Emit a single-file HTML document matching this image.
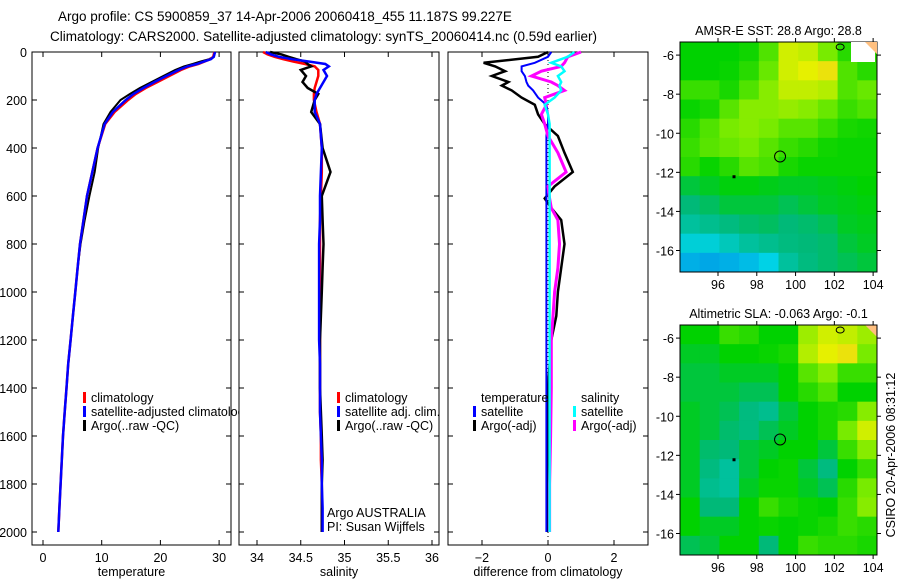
<!DOCTYPE html>
<html><head><meta charset="utf-8"><style>
body{margin:0;background:#fff;}
svg{display:block;font-family:"Liberation Sans",sans-serif;}
text{font-size:12.5px;fill:#000;}
</style></head><body>
<svg id="c" width="900" height="580" viewBox="0 0 900 580">
<defs><clipPath id="p1clip"><rect x="32" y="380" width="207" height="60"/></clipPath></defs>
<text x="58" y="21" style="font-size:13.5px">Argo profile: CS 5900859_37 14-Apr-2006 20060418_455 11.187S 99.227E</text>
<text x="50" y="41" style="font-size:13.5px">Climatology: CARS2000. Satellite-adjusted climatology: synTS_20060414.nc (0.59d earlier)</text>
</svg>
<script>
// ---- data ----
const depths=[0,10,20,30,40,50,60,75,100,125,150,175,200,250,300,400,500,600,700,800,900,1000,1100,1200,1300,1400,1500,1600,1700,1800,1900,2000];
const tempClim=[29.2,29.1,29,28.5,27.5,26.5,25,23.5,21.5,19.5,17.5,15.8,14.5,12.2,10.6,9.3,8.4,7.5,6.9,6.3,5.9,5.5,5.1,4.7,4.3,4.0,3.7,3.4,3.2,3.0,2.8,2.6];
const tempSat=[29.3,29.2,29.1,28.6,27.4,26.2,24.6,23.1,21.0,19.0,17.1,15.4,14.1,11.9,10.5,9.3,8.4,7.5,6.9,6.3,5.9,5.5,5.1,4.7,4.3,4.0,3.7,3.4,3.2,3.0,2.8,2.6];
const tempArgo=[29.3,29.2,29.1,28.3,26.8,25.5,24,22.5,20.5,18.5,16.5,14.8,13.2,11.5,10.3,9.4,8.8,7.9,7.1,6.4,5.9,5.5,5.1,4.7,4.3,4.0,3.7,3.4,3.2,3.0,2.8,2.6];
const salClim=[34.07,34.12,34.2,34.3,34.42,34.55,34.66,34.7,34.7,34.68,34.66,34.65,34.65,34.68,34.72,34.74,34.74,34.73,34.72,34.72,34.72,34.72,34.72,34.72,34.72,34.72,34.72,34.73,34.73,34.74,34.74,34.74];
const salSat=[34.1,34.16,34.25,34.4,34.6,34.78,34.82,34.76,34.8,34.76,34.72,34.68,34.66,34.66,34.72,34.74,34.73,34.72,34.72,34.71,34.71,34.71,34.71,34.71,34.72,34.72,34.72,34.73,34.74,34.74,34.75,34.75];
const salArgo=[34.15,34.28,34.36,34.45,34.55,34.58,34.62,34.5,34.56,34.52,34.58,34.7,34.66,34.62,34.72,34.75,34.84,34.74,34.75,34.76,34.75,34.74,34.73,34.72,34.72,34.72,34.73,34.74,34.75,34.74,34.74,34.74];
const diffDepth=[0,20,45,60,80,100,125,140,160,190,220,260,300,350,420,500,560,610,650,700,800,900,1000,1100,1200,1400,1600,1800,2000];
const dTempArgo=[0.0,-0.3,-1.95,-1.6,-1.3,-1.7,-1.2,-1.4,-1.1,-0.8,-0.4,-0.3,-0.1,0.3,0.5,0.75,0.2,-0.1,0.1,0.4,0.5,0.4,0.3,0.25,0.1,0.0,0.0,0.0,0.0];
const dTempSat=[0.1,0.0,-0.4,-0.8,-0.8,-0.7,-0.65,-0.6,-0.45,-0.3,-0.05,0,0,-0.05,-0.05,-0.05,-0.05,-0.05,-0.05,-0.05,-0.05,-0.05,-0.05,-0.05,-0.05,-0.05,-0.05,-0.05,-0.05];
const dSalArgo=[1.0,0.6,0.5,0.4,-0.2,-0.5,0.1,0.3,0.5,-0.1,-0.05,-0.2,-0.1,0.0,0.3,0.55,0.0,0.05,0.1,0.3,0.35,0.3,0.2,0.15,0.1,0.1,0.08,0.05,0.05];
const dSalSat=[0.8,0.6,0.1,0.4,0.5,0.3,0.4,0.35,0.4,0.2,-0.1,0.0,0.05,0.05,0.05,0.05,0.05,0.05,0.05,0.05,0.05,0.05,0.05,0.05,0.05,0.05,0.05,0.05,0.05];
const depthTicks=[0,200,400,600,800,1000,1200,1400,1600,1800,2000];
const tempTicks=[0,10,20,30];
const salTicks=[34,34.5,35,35.5,36];
const diffTicks=[-2,0,2];
const sstGrid=[
[.55,.55,.55,.57,.65,.82,.80,.70,.60,.60],
[.55,.55,.56,.60,.68,.82,.85,.88,.65,.60],
[.62,.62,.58,.65,.72,.80,.80,.78,.65,.68],
[.56,.58,.66,.72,.72,.74,.72,.68,.62,.65],
[.60,.65,.70,.72,.70,.66,.66,.62,.58,.57],
[.62,.66,.68,.70,.66,.62,.60,.57,.56,.56],
[.60,.56,.60,.66,.64,.58,.56,.56,.56,.56],
[.50,.52,.54,.54,.53,.52,.52,.53,.54,.55],
[.45,.47,.50,.50,.50,.48,.50,.52,.53,.54],
[.40,.42,.44,.46,.47,.45,.46,.48,.52,.53],
[.32,.32,.36,.40,.42,.44,.45,.46,.50,.52],
[.22,.20,.22,.25,.30,.40,.44,.46,.48,.50]];
const slaGrid=[
[.55,.55,.62,.60,.55,.55,.75,.82,.80,.75],
[.52,.52,.55,.55,.56,.58,.78,.85,.88,.70],
[.50,.50,.52,.52,.52,.55,.66,.72,.62,.62],
[.50,.50,.50,.48,.48,.55,.60,.65,.55,.55],
[.52,.50,.48,.44,.42,.50,.55,.58,.60,.72],
[.52,.50,.46,.44,.48,.52,.55,.58,.70,.82],
[.52,.46,.45,.50,.52,.55,.55,.50,.62,.72],
[.52,.44,.40,.50,.55,.56,.50,.44,.55,.62],
[.52,.42,.40,.52,.56,.56,.52,.48,.60,.70],
[.55,.45,.45,.55,.62,.58,.56,.55,.62,.72],
[.55,.52,.52,.55,.56,.55,.56,.58,.62,.60],
[.48,.50,.55,.55,.45,.55,.62,.60,.60,.58]];
const lonTicks=[96,98,100,102,104];
const latTicks=[-6,-8,-10,-12,-14,-16];
const latTickLabels=["-6","-8","-10","-12","-14","-16"];
const argoPos=[99.2,-11.19];

// ---- drawing ----
const svg=document.getElementById('c');
const NS='http://www.w3.org/2000/svg';
function mk(tag,attrs,parent){const e=document.createElementNS(NS,tag);for(const k in attrs)e.setAttribute(k,attrs[k]);(parent||svg).appendChild(e);return e;}
function txt(x,y,s,anchor,extra){const t=mk('text',Object.assign({x:x,y:y,'text-anchor':anchor||'start'},extra||{}));t.textContent=s;return t;}

const Y0=52, YS=0.24;
const yD=d=>Y0+d*YS;
const panels=[
 {x0:32,x1:231,fx:v=>43+v*5.87,ticks:tempTicks,label:'temperature',name:'temperature'},
 {x0:239,x1:439,fx:v=>257+(v-34)*87.5,ticks:salTicks,label:'salinity',name:'salinity'},
 {x0:448,x1:648,fx:v=>548+v*33,ticks:diffTicks,label:'difference from climatology',name:'difference'}];
const yTop=52,yBot=545;
panels.forEach((p,i)=>{
 const r=mk('rect',{x:p.x0,y:yTop,width:p.x1-p.x0,height:yBot-yTop,fill:'none',stroke:'#000','stroke-width':1});
 
 
 depthTicks.forEach(d=>{
  mk('line',{x1:p.x0,x2:p.x0+5,y1:yD(d),y2:yD(d),stroke:'#000'});
  mk('line',{x1:p.x1,x2:p.x1-5,y1:yD(d),y2:yD(d),stroke:'#000'});
  if(i===0){const t=txt(27,yD(d)+5,String(d),'end');
   
   }
 });
 p.ticks.forEach(v=>{
  const x=p.fx(v);
  mk('line',{x1:x,x2:x,y1:yTop,y2:yTop+5,stroke:'#000'});
  mk('line',{x1:x,x2:x,y1:yBot,y2:yBot-5,stroke:'#000'});
  const t=txt(x,562,String(v).replace('-','\u2212'),'middle');
  
  
 });
 const at=txt((p.x0+p.x1)/2,576,p.label,'middle');
 
 
});
function line(p,ds,vs,color,w,name){
 const pts=ds.map((d,i)=>p.fx(vs[i]).toFixed(1)+','+yD(d).toFixed(1)).join(' ');
 const l=mk('polyline',{points:pts,fill:'none',stroke:color,'stroke-width':w});
 
 
}
line(panels[0],depths,tempArgo,'#000',2,'temp-argo-line');
line(panels[0],depths,tempClim,'#f00',2.5,'temp-climatology-line');
line(panels[0],depths,tempSat,'#00f',2.5,'temp-satellite-line');
line(panels[1],depths,salClim,'#f00',2.5,'sal-climatology-line');
line(panels[1],depths,salArgo,'#000',2.5,'sal-argo-line');
line(panels[1],depths,salSat,'#00f',2.5,'sal-satellite-line');
mk('line',{x1:548,x2:548,y1:yTop,y2:yBot,stroke:'#000','stroke-dasharray':'1,3'});
line(panels[2],diffDepth,dTempArgo,'#000',2.5,'diff-temp-argo-line');
line(panels[2],diffDepth,dTempSat,'#00f',2,'diff-temp-satellite-line');
line(panels[2],diffDepth,dSalArgo,'#f0f',3,'diff-sal-argo-line');
line(panels[2],diffDepth,dSalSat,'#0ff',2.5,'diff-sal-satellite-line');

function legend(x,y,col,label,name,clip){
 const g=mk('g',clip?{'clip-path':'url(#'+clip+')'}:{});
 
 
 if(col)mk('rect',{x:x,y:y-10,width:3,height:11,fill:col},g);
 const t=mk('text',{x:x+8,y:y},g);t.textContent=label;
}
legend(83,402,'#f00','climatology','legend-temp-climatology','p1clip');
legend(83,416,'#00f','satellite-adjusted climatology','legend-temp-satellite','p1clip');
legend(83,430,'#000','Argo(..raw -QC)','legend-temp-argo','p1clip');
legend(337,402,'#f00','climatology','legend-sal-climatology');
legend(337,416,'#00f','satellite adj. clim.','legend-sal-satellite');
legend(337,430,'#000','Argo(..raw -QC)','legend-sal-argo');
legend(473,402,null,'temperature','legend-temp-header');
legend(473,416,'#00f','satellite','legend-diff-temp-satellite');
legend(473,430,'#000','Argo(-adj)','legend-diff-temp-argo');
legend(573,402,null,'salinity','legend-sal-header');
legend(573,416,'#0ff','satellite','legend-diff-sal-satellite');
legend(573,430,'#f0f','Argo(-adj)','legend-diff-sal-argo');
let t=txt(327,517,'Argo AUSTRALIA');
t=txt(327,531,'PI: Susan Wijffels');

// ---- maps ----
const stops=[[0,[0,80,230]],[0.3,[0,210,230]],[0.45,[0,185,120]],[0.55,[0,210,0]],[0.7,[120,235,0]],[0.85,[230,240,0]],[1,[255,170,60]]];
function cmap(v){for(let i=1;i<stops.length;i++){if(v<=stops[i][0]){const a=stops[i-1],b=stops[i],f=(v-a[0])/(b[0]-a[0]);return 'rgb('+a[1].map((c,k)=>Math.round(c+(b[1][k]-c)*f)).join(',')+')';}}return 'rgb(255,170,60)';}
function drawMap(top,grid,title,name){
 const L=680,R=877,T=top,B=top+230;
 const lonMin=94.04,lonMax=104.2,latMax=-5.33,latMin=-17.1;
 const fx=lon=>L+(lon-lonMin)/(lonMax-lonMin)*(R-L);
 const fy=lat=>T+(latMax-lat)/(latMax-latMin)*(B-T);
 const rows=grid.length,cols=grid[0].length;
 const g=mk('g',{});
 
 
 grid.forEach((row,r)=>row.forEach((v,c)=>{
  const cell=mk('rect',{x:L+c*(R-L)/cols,y:T+r*(B-T)/rows,width:(R-L)/cols+0.5,height:(B-T)/rows+0.5,fill:cmap(v)},g);
  
  
 }));
 mk('polygon',{points:`${R-12},${T} ${R},${T} ${R},${T+12}`,fill:'#ffc080'});
 const circ=mk('circle',{cx:fx(argoPos[0]),cy:fy(argoPos[1]),r:5.5,fill:'none',stroke:'#000'});
 
 
 mk('rect',{x:fx(96.8)-1,y:fy(-12.2)-1,width:3,height:3,fill:'#000'});
 mk('ellipse',{cx:fx(102.3),cy:T+5,rx:4,ry:3,fill:'none',stroke:'#000'});
 const bx=mk('rect',{x:L,y:T,width:R-L,height:B-T,fill:'none',stroke:'#000'});
 
 
 lonTicks.forEach(v=>{const x=fx(v);mk('line',{x1:x,x2:x,y1:T,y2:T-4,stroke:'#000'});mk('line',{x1:x,x2:x,y1:B,y2:B+4,stroke:'#000'});
  const tt=txt(x,B+17,String(v),'middle');});
 latTicks.forEach((v,i)=>{const y=fy(v);mk('line',{x1:L,x2:L-4,y1:y,y2:y,stroke:'#000'});mk('line',{x1:R,x2:R+4,y1:y,y2:y,stroke:'#000'});
  const tt=txt(674,y+5,latTickLabels[i],'end');});
 const tt=txt((L+R)/2,T-7,title,'middle');
}
drawMap(42,sstGrid,'AMSR-E SST: 28.8 Argo: 28.8','sst-map');
mk('rect',{x:851,y:42,width:24,height:20,fill:'#fff'});
mk('polygon',{points:'865,42 877,42 877,54',fill:'#ffc080'});
drawMap(325,slaGrid,'Altimetric SLA: -0.063 Argo: -0.1','sla-map');
const rt=txt(0,0,'CSIRO 20-Apr-2006 08:31:12','middle',{transform:'translate(895,455) rotate(-90)'});


</script>
</body></html>
